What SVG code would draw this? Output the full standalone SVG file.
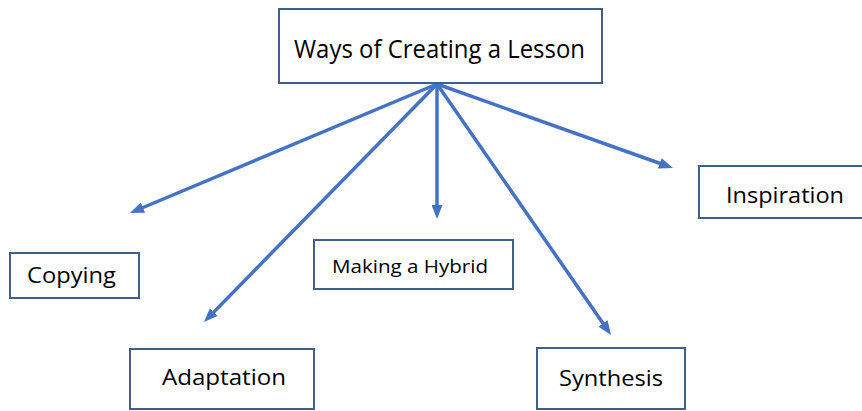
<svg xmlns="http://www.w3.org/2000/svg" width="862" height="411" viewBox="0 0 862 411">
  <defs>
    <style>
      .box { fill: #ffffff; stroke: #3F5F8F; stroke-width: 2; }
      .lbl { font-family: "Open Sans", "Noto Sans", "Liberation Sans", sans-serif; fill: #000000; }
      .edge { stroke: #4472C4; stroke-width: 3.5; fill: none; marker-end: url(#head); }
    </style>
    <marker id="head" viewBox="0 0 14 11" markerUnits="userSpaceOnUse" markerWidth="14" markerHeight="11" refX="5" refY="5.5" orient="auto">
      <path d="M0,0 L14,5.5 L0,11 z" fill="#4472C4"/>
    </marker>
  </defs>

  <rect width="862" height="411" fill="#ffffff"/>

  <!-- connectors from the central title -->
  <g id="connectors">
    <line class="edge" x1="437" y1="84" x2="138.3" y2="209.5"/>
    <line class="edge" x1="437" y1="84" x2="210.3" y2="315.6"/>
    <line class="edge" x1="437" y1="84" x2="437" y2="210"/>
    <line class="edge" x1="437" y1="84" x2="605.9" y2="327.6"/>
    <line class="edge" x1="437" y1="84" x2="664.5" y2="165"/>
  </g>

  <g id="title">
    <rect class="box" x="279" y="9" width="323" height="74"/>
    <text class="lbl" x="294" y="58" font-size="26" textLength="291" lengthAdjust="spacingAndGlyphs">Ways of Creating a Lesson</text>
  </g>

  <g id="copying">
    <rect class="box" x="10" y="253" width="129" height="45"/>
    <text class="lbl" x="27" y="283" font-size="21" textLength="89" lengthAdjust="spacingAndGlyphs">Copying</text>
  </g>

  <g id="adaptation">
    <rect class="box" x="130" y="349" width="184" height="60"/>
    <text class="lbl" x="162" y="385" font-size="21.5" textLength="124" lengthAdjust="spacingAndGlyphs">Adaptation</text>
  </g>

  <g id="hybrid">
    <rect class="box" x="314" y="240" width="199" height="49"/>
    <text class="lbl" x="332" y="273" font-size="19" textLength="156" lengthAdjust="spacingAndGlyphs">Making a Hybrid</text>
  </g>

  <g id="synthesis">
    <rect class="box" x="537" y="348" width="148" height="61"/>
    <text class="lbl" x="559" y="386" font-size="21.5" textLength="104" lengthAdjust="spacingAndGlyphs">Synthesis</text>
  </g>

  <g id="inspiration">
    <rect class="box" x="699" y="166" width="166" height="52"/>
    <text class="lbl" x="726" y="203" font-size="21.5" textLength="118" lengthAdjust="spacingAndGlyphs">Inspiration</text>
  </g>
</svg>
